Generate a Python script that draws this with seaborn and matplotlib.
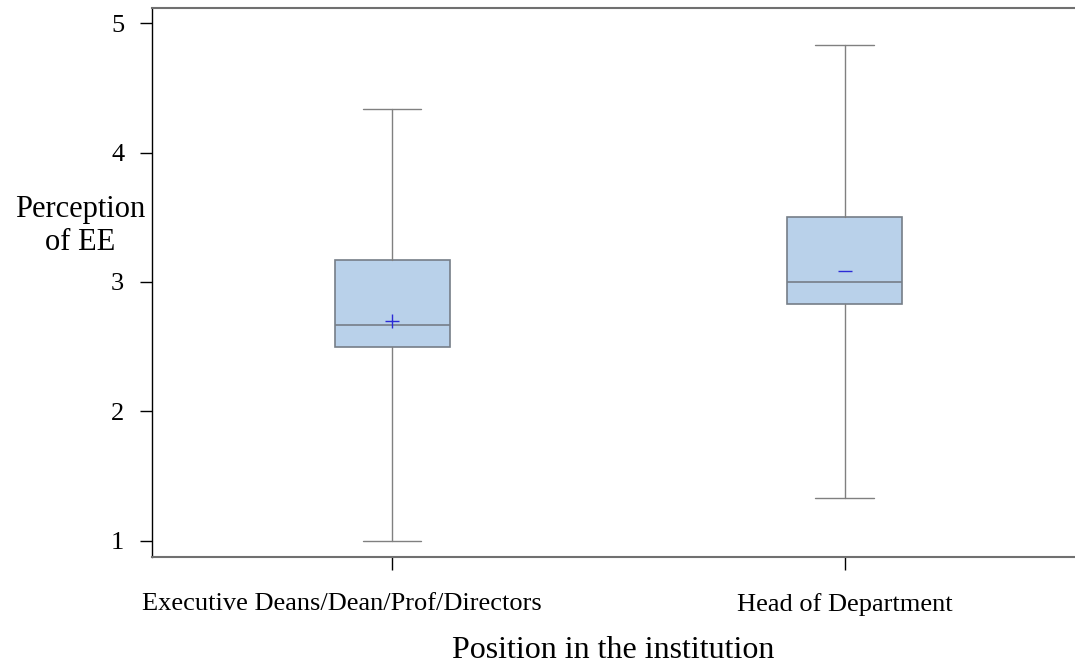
import matplotlib
matplotlib.use("Agg")
import matplotlib.pyplot as plt
import matplotlib.transforms as mtransforms
import seaborn as sns

categories = ["Executive Deans/Dean/Prof/Directors", "Head of Department"]
whisker_low = [1.0, 1.333]
q1 = [2.5, 2.833]
median = [2.667, 3.0]
q3 = [3.167, 3.5]
whisker_high = [4.333, 4.833]
means = [2.70, 3.085]
mean_markers = ["+", "_"]
yticks = [1, 2, 3, 4, 5]

sns.set_style("white")
plt.rcParams['font.family'] = ['Liberation Serif', 'DejaVu Serif']
plt.rcParams['text.color'] = 'black'
plt.rcParams['axes.labelcolor'] = 'black'
plt.rcParams['xtick.color'] = 'black'
plt.rcParams['ytick.color'] = 'black'

fig = plt.figure(figsize=(10.75, 6.69), dpi=100)
ax = fig.add_axes([152/1075, 1-557/669, (1075-152)/1075, 549/669])

stats = []
for i, c in enumerate(categories):
    stats.append(dict(label=c, whislo=whisker_low[i], q1=q1[i], med=median[i],
                      q3=q3[i], whishi=whisker_high[i], fliers=[], mean=means[i]))

edge = "#767e88"
ax.bxp(stats, positions=list(range(len(categories))), widths=0.254, capwidths=0.13,
       patch_artist=True, showfliers=False, showmeans=False,
       boxprops=dict(facecolor="#b9d1ea", edgecolor=edge, linewidth=1.2),
       medianprops=dict(color=edge, linewidth=1.2),
       whiskerprops=dict(color="#808080", linewidth=1.0),
       capprops=dict(color="#808080", linewidth=1.0))

for i, m in enumerate(means):
    ax.scatter([i], [m], marker=mean_markers[i], s=110, color="#2b2bd6", linewidths=1.0, zorder=5)

ax.set_xlim(-0.530, 1.508)
ax.set_ylim(0.876, 5.116)
ax.set_yticks(yticks)
ax.set_yticklabels([str(t) for t in yticks])
ax.set_xticks(range(len(categories)))
ax.set_xticklabels(categories)

ax.tick_params(axis='y', direction='out', length=9, width=1, color='black',
               labelsize=19, pad=11, left=True)
ax.tick_params(axis='x', direction='out', length=9, width=1, color='black',
               labelsize=19, pad=17, bottom=True)

# first tick label sits left of its tick in the reference
lab0 = ax.get_xticklabels()[0]
lab0.set_transform(lab0.get_transform() +
                   mtransforms.ScaledTranslation(-50/100, 0, fig.dpi_scale_trans))

for s in ['top', 'bottom']:
    ax.spines[s].set_color('#707070')
    ax.spines[s].set_linewidth(1.5)
ax.spines['left'].set_color('black')
ax.spines['left'].set_linewidth(1.0)
ax.spines['right'].set_visible(False)

ax.set_xlabel("Position in the institution", fontsize=23)
ax.xaxis.set_label_coords(0.5, -0.17)
ax.xaxis.label.set_va('center')
ax.set_ylabel("Perception\nof EE", fontsize=22, rotation=0, ha='center', va='center',
              linespacing=1.2)
ax.yaxis.set_label_coords(-0.078, 0.603)

fig.savefig("out.png", dpi=100)
